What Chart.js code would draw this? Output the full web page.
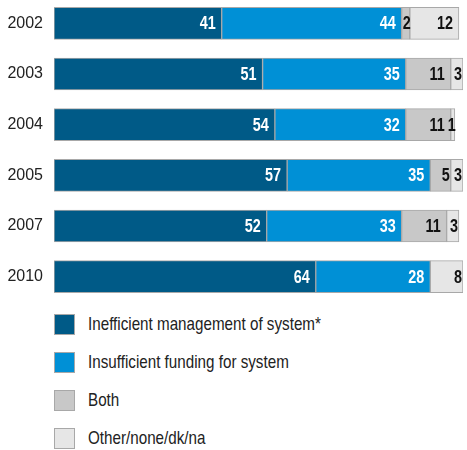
<!DOCTYPE html>
<html>
<head>
<meta charset="utf-8">
<script src="https://cdn.jsdelivr.net/npm/chart.js@4"></script>
<style>
  body { margin: 0; background: #fff; width: 467px; height: 450px; overflow: hidden; position: relative; }
  #chart { position: absolute; left: 0; top: -2px; }
  #legend { position: absolute; left: 54px; top: 305px; font-family: "Liberation Sans", Arial, sans-serif; font-size: 19px; color: #222; }
  .item { display: flex; align-items: center; height: 38px; white-space: nowrap; }
  .box { width: 19px; height: 19px; border: 1px solid #a8a8a8; margin-right: 13px; flex: none; }
  .txt { display: inline-block; transform-origin: left center; }
</style>
</head>
<body>
<canvas id="chart" width="467" height="304"></canvas>
<div id="legend"></div>
<script>
const years = ["2002", "2003", "2004", "2005", "2007", "2010"];
const seriesNames = ["Inefficient management of system*", "Insufficient funding for system", "Both", "Other/none/dk/na"];
const inefficient = [41, 51, 54, 57, 52, 64];
const insufficient = [44, 35, 32, 35, 33, 28];
const both = [2, 11, 11, 5, 11, 0];
const other = [12, 3, 1, 3, 3, 8];

const colors = ["#005a87", "#0090d6", "#c8c8c8", "#e6e6e6"];
const labelColors = ["#fff", "#fff", "#111", "#111"];
const font = "'Liberation Sans', Arial, sans-serif";
const narrow = 0.8; // squeeze text to look like the condensed face

// draws the value at the right end of each segment
const valueLabels = {
  id: "valueLabels",
  afterDatasetsDraw(chart) {
    const ctx = chart.ctx;
    chart.data.datasets.forEach((ds, i) => {
      chart.getDatasetMeta(i).data.forEach((bar, j) => {
        const v = ds.data[j];
        if (!v) return;
        const off = v < 3 ? -1 : v < 10 ? 1 : 6;
        ctx.save();
        ctx.font = "bold 18px " + font;
        ctx.textAlign = "right";
        ctx.textBaseline = "middle";
        ctx.fillStyle = labelColors[i];
        ctx.translate(bar.x - off, bar.y + 1);
        ctx.scale(narrow, 1);
        ctx.fillText(v, 0, 0);
        ctx.restore();
      });
    });
  }
};

const chart = new Chart(document.getElementById("chart"), {
  type: "bar",
  data: {
    labels: years,
    datasets: [inefficient, insufficient, both, other].map((d, i) => ({
      label: seriesNames[i],
      data: d,
      backgroundColor: colors[i],
      borderColor: "#a8a8a8",
      borderWidth: 1,
      borderSkipped: false,
      barThickness: 32
    }))
  },
  options: {
    indexAxis: "y",
    responsive: false,
    animation: false,
    layout: { padding: { right: 4, top: 0, bottom: 0, left: 0 } },
    plugins: { legend: { display: false }, tooltip: { enabled: false } },
    scales: {
      x: {
        stacked: true,
        min: 0,
        max: 100,
        display: false
      },
      y: {
        stacked: true,
        grid: { display: false, drawTicks: false },
        border: { display: false },
        ticks: { color: "#222", font: { family: font, size: 16 }, padding: 11 },
        afterFit(axis) {
          axis.width = 54;
          axis.paddingTop = 0;
          axis.paddingBottom = 0;
        }
      }
    }
  },
  plugins: [valueLabels]
});

const legend = document.getElementById("legend");
chart.data.datasets.forEach((ds) => {
  const item = document.createElement("div");
  item.className = "item";
  const box = document.createElement("span");
  box.className = "box";
  box.style.background = ds.backgroundColor;
  const text = document.createElement("span");
  text.className = "txt";
  text.style.transform = "scaleX(" + narrow + ")";
  text.textContent = ds.label;
  item.appendChild(box);
  item.appendChild(text);
  legend.appendChild(item);
});
</script>
</body>
</html>
